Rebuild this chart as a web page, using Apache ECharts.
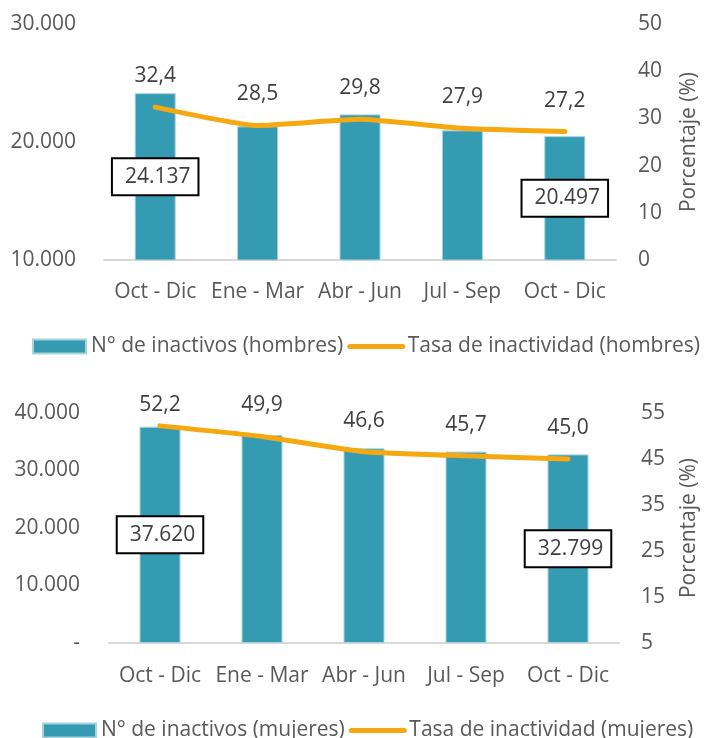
<!DOCTYPE html>
<html>
  <head>
    <meta charset="utf-8" />
    <title>Inactivos</title>
    <script src="https://cdn.jsdelivr.net/npm/echarts@6/dist/echarts.min.js"></script>
  </head>
  <body style="margin:0">
    <div id="main" style="width:704px;height:738px;"></div>
    <script type="text/javascript">
      // quarters shown on both panels
      var quarters = ['Oct - Dic', 'Ene - Mar', 'Abr - Jun', 'Jul - Sep', 'Oct - Dic'];

      // hombres
      var inactivosHombres = [24137, 21330, 22340, 20990, 20497];
      var tasaHombres = [32.4, 28.5, 29.8, 27.9, 27.2];

      // mujeres
      var inactivosMujeres = [37620, 36170, 33850, 33280, 32799];
      var tasaMujeres = [52.2, 49.9, 46.6, 45.7, 45.0];

      var barColor = '#349bb3';
      var lineColor = '#f5a80f';
      var gray = '#595959';
      var font = 'Open Sans';
      var fs = 21;

      var myChart = echarts.init(document.getElementById('main'));

      function thousands(v) {
        if (v === 0) return '-';
        return String(v).replace(/\B(?=(\d{3})+(?!\d))/g, '.');
      }

      // only first and last bars carry a boxed label
      function boxedBars(values) {
        return values.map(function (v, i) {
          var item = { value: v };
          if (i === 0 || i === values.length - 1) {
            item.label = {
              show: true,
              position: 'inside',
              formatter: thousands(v),
              color: '#404040',
              fontFamily: font,
              fontSize: fs,
              lineHeight: 24,
              backgroundColor: '#fff',
              borderColor: '#000',
              borderWidth: 2,
              padding: [6, 7, 5, 12]
            };
          }
          return item;
        });
      }

      function rateLabels(values, firstDist) {
        return values.map(function (v, i) {
          return {
            value: v,
            label: { distance: i === 0 && firstDist ? firstDist : 20 }
          };
        });
      }

      var axisLabelStyle = { color: gray, fontFamily: font, fontSize: fs };

      function lineSeries(name, yIdx, data, xIdx) {
        return {
          name: name,
          type: 'line',
          xAxisIndex: xIdx,
          yAxisIndex: yIdx,
          symbol: 'circle',
          symbolSize: 1,
          smooth: 0.15,
          lineStyle: { color: lineColor, width: 5, cap: 'round' },
          itemStyle: { color: lineColor },
          label: {
            show: true,
            position: 'top',
            color: '#404040',
            fontFamily: font,
            fontSize: fs,
            formatter: function (p) { return p.value.toFixed(1).replace('.', ','); }
          },
          data: data
        };
      }

      function legendFor(top, left, barName, lineName) {
        return {
          left: left,
          top: top,
          width: 700,
          padding: 0,
          itemWidth: 53,
          itemHeight: 14,
          itemGap: 4,
          textStyle: { color: gray, fontFamily: font, fontSize: fs },
          data: [
            { name: barName, icon: 'rect' },
            { name: lineName, itemStyle: { opacity: 0 }, lineStyle: { width: 5 } }
          ]
        };
      }

      var option = {
        textStyle: { fontFamily: font },
        animation: false,
        grid: [
          { left: 104, right: 88, top: 24, bottom: 478, outerBoundsMode: 'none' },
          { left: 109, right: 85, top: 413, bottom: 95, outerBoundsMode: 'none' }
        ],
        legend: [
          legendFor(336, 32, 'N° de inactivos (hombres)', 'Tasa de inactividad (hombres)'),
          legendFor(720, 42, 'N° de inactivos (mujeres)', 'Tasa de inactividad (mujeres)')
        ],
        xAxis: [
          {
            type: 'category',
            gridIndex: 0,
            data: quarters,
            axisTick: { show: false },
            axisLine: { lineStyle: { color: '#d9d9d9', width: 2 } },
            axisLabel: Object.assign({ margin: 22, interval: 0 }, axisLabelStyle)
          },
          {
            type: 'category',
            gridIndex: 1,
            data: quarters,
            axisTick: { show: false },
            axisLine: { lineStyle: { color: '#d9d9d9', width: 2 } },
            axisLabel: Object.assign({ margin: 23, interval: 0 }, axisLabelStyle)
          }
        ],
        yAxis: [
          {
            type: 'value',
            gridIndex: 0,
            min: 10000,
            max: 30000,
            interval: 10000,
            splitLine: { show: false },
            axisLine: { show: false },
            axisTick: { show: false },
            axisLabel: Object.assign({ margin: 28, formatter: thousands }, axisLabelStyle)
          },
          {
            type: 'value',
            gridIndex: 0,
            position: 'right',
            min: 0,
            max: 50,
            interval: 10,
            splitLine: { show: false },
            axisLine: { show: false },
            axisTick: { show: false },
            axisLabel: Object.assign({ margin: 22 }, axisLabelStyle),
            name: 'Porcentaje (%)',
            nameLocation: 'middle',
            nameRotate: 90,
            nameGap: 63,
            nameTextStyle: { color: gray, fontFamily: font, fontSize: fs }
          },
          {
            type: 'value',
            gridIndex: 1,
            min: 0,
            max: 40000,
            interval: 10000,
            splitLine: { show: false },
            axisLine: { show: false },
            axisTick: { show: false },
            axisLabel: Object.assign({ margin: 29, formatter: thousands }, axisLabelStyle)
          },
          {
            type: 'value',
            gridIndex: 1,
            position: 'right',
            min: 5,
            max: 55,
            interval: 10,
            splitLine: { show: false },
            axisLine: { show: false },
            axisTick: { show: false },
            axisLabel: Object.assign({ margin: 22 }, axisLabelStyle),
            name: 'Porcentaje (%)',
            nameLocation: 'middle',
            nameRotate: 90,
            nameGap: 60,
            nameTextStyle: { color: gray, fontFamily: font, fontSize: fs }
          }
        ],
        series: [
          {
            name: 'N° de inactivos (hombres)',
            type: 'bar',
            xAxisIndex: 0,
            yAxisIndex: 0,
            barWidth: 41,
            itemStyle: { color: barColor, borderColor: '#a8d3de', borderWidth: 1 },
            data: boxedBars(inactivosHombres)
          },
          lineSeries('Tasa de inactividad (hombres)', 1, rateLabels(tasaHombres), 0),
          {
            name: 'N° de inactivos (mujeres)',
            type: 'bar',
            xAxisIndex: 1,
            yAxisIndex: 2,
            barWidth: 41,
            itemStyle: { color: barColor, borderColor: '#a8d3de', borderWidth: 1 },
            data: boxedBars(inactivosMujeres)
          },
          lineSeries('Tasa de inactividad (mujeres)', 3, rateLabels(tasaMujeres, 10), 1)
        ]
      };

      myChart.setOption(option);
    </script>
  </body>
</html>
